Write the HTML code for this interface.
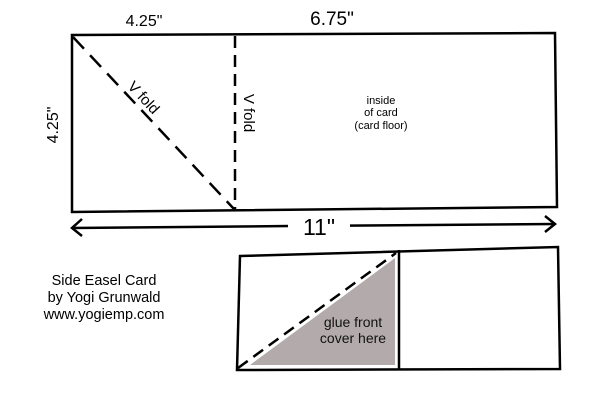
<!DOCTYPE html>
<html><head><style>body{margin:0;background:#fff}</style></head><body>
<svg width="600" height="400" xmlns="http://www.w3.org/2000/svg" font-family="Liberation Sans, Arial, sans-serif">
<rect width="600" height="400" fill="#fff"/>
<polygon points="72,35 555,33 557,207 72,212" fill="none" stroke="#000" stroke-width="2.5"/>
<line x1="235" y1="36" x2="235" y2="210" stroke="#000" stroke-width="2.5" stroke-dasharray="12,7"/>
<line x1="73" y1="37" x2="234" y2="209" stroke="#000" stroke-width="2.5" stroke-dasharray="16,9"/>
<text x="144" y="26" font-size="16" text-anchor="middle">4.25"</text>
<text x="332" y="25" font-size="19" text-anchor="middle">6.75"</text>
<text transform="translate(58,125) rotate(-90)" font-size="16" text-anchor="middle">4.25"</text>
<text transform="translate(140,101) rotate(47)" font-size="15" text-anchor="middle">V fold</text>
<text transform="translate(244,113) rotate(90)" font-size="15" text-anchor="middle">V fold</text>
<text font-size="11" text-anchor="middle"><tspan x="381" y="104">inside</tspan><tspan x="381" y="116">of card</tspan><tspan x="381" y="129">(card floor)</tspan></text>
<line x1="72" y1="228" x2="290" y2="226" stroke="#000" stroke-width="2.5"/>
<line x1="296" y1="226" x2="555" y2="224" stroke="#000" stroke-width="2.5"/>
<rect x="288" y="215" width="62" height="22" fill="#fff"/>
<polyline points="82,219 72,228 82,236" fill="none" stroke="#000" stroke-width="2.5"/>
<polyline points="545,216 555,224 545,232" fill="none" stroke="#000" stroke-width="2.5"/>
<text x="319" y="235" font-size="23" text-anchor="middle">11"</text>
<text font-size="14.5" text-anchor="middle"><tspan x="104" y="285">Side Easel Card</tspan><tspan x="104" y="302">by Yogi Grunwald</tspan><tspan x="104" y="319">www.yogiemp.com</tspan></text>
<polygon points="250,365 395,258 395,365" fill="#b3abab"/>
<polygon points="240,256 558,247 560,369 237,370" fill="none" stroke="#000" stroke-width="2.5"/>
<line x1="399" y1="250" x2="399" y2="369" stroke="#000" stroke-width="2.5"/>
<line x1="238" y1="368" x2="396" y2="253" stroke="#000" stroke-width="2.5" stroke-dasharray="12,7"/>
<text font-size="14" text-anchor="middle" fill="#111"><tspan x="353" y="327">glue front</tspan><tspan x="353" y="343">cover here</tspan></text>
</svg>
</body></html>
